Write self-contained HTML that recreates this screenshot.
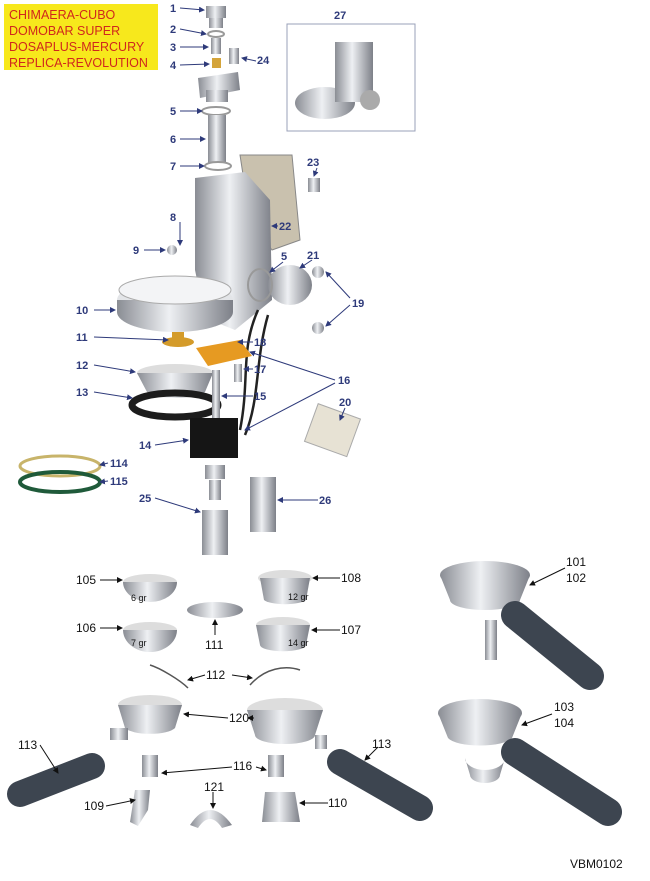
<!DOCTYPE html>
<html><head><meta charset="utf-8"><style>
body{margin:0;background:#fff;width:650px;height:881px;overflow:hidden;font-family:"Liberation Sans",sans-serif}
svg{position:absolute;left:0;top:0}
.n{font:bold 11px "Liberation Sans",sans-serif;fill:#2e3a7a}
.k{font:12px "Liberation Sans",sans-serif;fill:#111}
.s{font:9px "Liberation Sans",sans-serif;fill:#111}
</style></head><body>
<svg width="650" height="881" viewBox="0 0 650 881">
<defs>
<linearGradient id="m" x1="0" x2="1"><stop offset="0" stop-color="#8a8d94"/><stop offset=".45" stop-color="#eef0f3"/><stop offset="1" stop-color="#7d8088"/></linearGradient>
<marker id="a" markerWidth="6" markerHeight="6" refX="5" refY="3" orient="auto"><path d="M0,0L6,3L0,6z" fill="#2e3a7a"/></marker>
<marker id="b" markerWidth="6" markerHeight="6" refX="5" refY="3" orient="auto"><path d="M0,0L6,3L0,6z" fill="#111"/></marker>
</defs>
<rect x="4" y="4" width="154" height="66" fill="#f7e81c"/>
<g font-family="Liberation Sans" font-size="12.5" fill="#d0281c">
<text x="9" y="19">CHIMAERA-CUBO</text><text x="9" y="35">DOMOBAR SUPER</text><text x="9" y="51">DOSAPLUS-MERCURY</text><text x="9" y="67">REPLICA-REVOLUTION</text></g>
<rect x="287" y="24" width="128" height="107" fill="none" stroke="#9aa0b8"/>
<ellipse cx="325" cy="103" rx="30" ry="16" fill="url(#m)"/><rect x="335" y="42" width="38" height="60" fill="url(#m)"/><circle cx="370" cy="100" r="10" fill="#aaa"/>
<rect x="206" y="6" width="20" height="12" fill="url(#m)"/><rect x="209" y="18" width="14" height="10" fill="url(#m)"/>
<ellipse cx="216" cy="34" rx="8" ry="3" fill="none" stroke="#999" stroke-width="2"/>
<rect x="211" y="38" width="10" height="16" fill="url(#m)"/>
<rect x="229" y="48" width="10" height="16" fill="url(#m)"/>
<rect x="212" y="58" width="9" height="10" fill="#d4a43a"/>
<path d="M198,78 L238,72 L240,90 L200,98 Z" fill="url(#m)"/><rect x="206" y="90" width="22" height="12" fill="url(#m)"/>
<ellipse cx="216" cy="111" rx="14" ry="4" fill="none" stroke="#999" stroke-width="2"/>
<rect x="208" y="115" width="18" height="48" fill="url(#m)"/>
<ellipse cx="218" cy="166" rx="13" ry="4" fill="none" stroke="#999" stroke-width="2"/>
<path d="M240,155 L292,155 L300,240 L272,250 L250,220 Z" fill="#c9c1ae" stroke="#888"/>
<path d="M195,178 L245,172 L270,200 L272,300 L235,330 L205,318 L195,270 Z" fill="url(#m)"/>
<ellipse cx="175" cy="300" rx="58" ry="20" fill="#e3e5e8"/><path d="M117,300 L117,312 A58,20 0 0 0 233,312 L233,300 Z" fill="url(#m)"/>
<ellipse cx="175" cy="290" rx="56" ry="14" fill="#f3f4f6" stroke="#aaa"/>
<rect x="308" y="178" width="12" height="14" fill="url(#m)"/>
<ellipse cx="290" cy="285" rx="22" ry="20" fill="url(#m)"/><ellipse cx="260" cy="285" rx="12" ry="16" fill="none" stroke="#999" stroke-width="2"/>
<circle cx="318" cy="272" r="6" fill="url(#m)"/><circle cx="318" cy="328" r="6" fill="url(#m)"/>
<circle cx="172" cy="250" r="5" fill="url(#m)"/>
<path d="M258,310 C240,350 250,380 240,430 M268,315 C255,360 260,400 245,435" stroke="#222" stroke-width="2.5" fill="none"/>
<ellipse cx="178" cy="342" rx="16" ry="5" fill="#d49b2a"/><rect x="172" y="332" width="12" height="8" fill="#d49b2a"/>
<path d="M196,348 L240,340 L252,356 L208,366 Z" fill="#e69a22"/>
<rect x="234" y="364" width="8" height="18" fill="url(#m)"/>
<ellipse cx="175" cy="373" rx="38" ry="9" fill="#ddd"/><path d="M137,373 L147,392 A30,8 0 0 0 205,392 L213,373 Z" fill="url(#m)"/>
<ellipse cx="175" cy="405" rx="43" ry="12" fill="none" stroke="#1c1c1c" stroke-width="7"/>
<rect x="212" y="370" width="8" height="50" fill="url(#m)"/>
<rect x="190" y="418" width="48" height="40" fill="#151515"/>
<rect x="310" y="410" width="45" height="40" transform="rotate(20 332 430)" fill="#e7e2d4" stroke="#aaa"/>
<ellipse cx="60" cy="466" rx="40" ry="10" fill="none" stroke="#c8b46a" stroke-width="3"/>
<ellipse cx="60" cy="482" rx="40" ry="10" fill="none" stroke="#1f5a3a" stroke-width="4"/>
<rect x="205" y="465" width="20" height="14" fill="url(#m)"/><rect x="209" y="480" width="12" height="20" fill="url(#m)"/>
<rect x="202" y="510" width="26" height="45" fill="url(#m)"/>
<rect x="250" y="477" width="26" height="55" fill="url(#m)"/>
<ellipse cx="150" cy="582" rx="27" ry="8" fill="#ddd"/><path d="M123,582 A27,20 0 0 0 177,582 Z" fill="url(#m)"/>
<ellipse cx="285" cy="578" rx="27" ry="8" fill="#ddd"/><path d="M260,578 L264,600 A22,6 0 0 0 306,600 L310,578 Z" fill="url(#m)"/>
<ellipse cx="215" cy="610" rx="28" ry="8" fill="url(#m)"/>
<ellipse cx="150" cy="630" rx="27" ry="8" fill="#ddd"/><path d="M123,630 A27,22 0 0 0 177,630 Z" fill="url(#m)"/>
<ellipse cx="283" cy="625" rx="27" ry="8" fill="#ddd"/><path d="M256,625 L260,645 A22,6 0 0 0 306,645 L310,625 Z" fill="url(#m)"/>
<path d="M150,665 C160,668 180,680 188,688 M250,685 C265,668 285,665 300,670" stroke="#555" fill="none" stroke-width="1.5"/>
<!-- portafilters right -->
<ellipse cx="485" cy="575" rx="45" ry="14" fill="url(#m)"/><path d="M440,575 L450,600 A35,10 0 0 0 520,600 L530,575 Z" fill="url(#m)"/>
<line x1="515" y1="615" x2="590" y2="676" stroke="#3d4550" stroke-width="28" stroke-linecap="round"/><rect x="485" y="620" width="12" height="40" fill="url(#m)"/>
<ellipse cx="480" cy="713" rx="42" ry="14" fill="url(#m)"/><path d="M438,713 L448,738 A33,10 0 0 0 512,738 L522,713 Z" fill="url(#m)"/>
<line x1="515" y1="752" x2="608" y2="812" stroke="#3d4550" stroke-width="28" stroke-linecap="round"/><path d="M465,758 A20,12 0 0 0 505,758 L500,775 A15,8 0 0 1 470,775 Z" fill="url(#m)"/>
<!-- bottom group -->
<ellipse cx="150" cy="705" rx="32" ry="10" fill="#ddd"/><path d="M118,705 L125,728 A26,8 0 0 0 175,728 L182,705 Z" fill="url(#m)"/><rect x="110" y="728" width="18" height="12" fill="url(#m)"/>
<ellipse cx="285" cy="710" rx="38" ry="12" fill="#ddd"/><path d="M247,710 L255,735 A30,9 0 0 0 315,735 L323,710 Z" fill="url(#m)"/><rect x="315" y="735" width="12" height="14" fill="url(#m)"/>
<line x1="92" y1="766" x2="20" y2="794" stroke="#3d4550" stroke-width="26" stroke-linecap="round"/>
<line x1="340" y1="762" x2="420" y2="808" stroke="#3d4550" stroke-width="26" stroke-linecap="round"/>
<rect x="142" y="755" width="16" height="22" fill="url(#m)"/><rect x="268" y="755" width="16" height="22" fill="url(#m)"/>
<path d="M135,790 L150,790 L148,810 L138,826 L130,822 Z" fill="url(#m)"/>
<path d="M265,792 L295,792 L300,822 L262,822 Z" fill="url(#m)"/>
<path d="M190,825 Q210,795 232,825 L222,828 Q210,810 198,828 Z" fill="url(#m)"/>
<g stroke="#2e3a7a" stroke-width="1" marker-end="url(#a)">
<line x1="180" y1="8" x2="204" y2="10"/><line x1="180" y1="29" x2="206" y2="34"/><line x1="180" y1="47" x2="208" y2="47"/><line x1="180" y1="65" x2="209" y2="64"/>
<line x1="256" y1="61" x2="242" y2="58"/><line x1="180" y1="111" x2="202" y2="111"/><line x1="180" y1="139" x2="205" y2="139"/><line x1="180" y1="166" x2="204" y2="166"/>
<line x1="317" y1="168" x2="314" y2="176"/><line x1="180" y1="222" x2="180" y2="245"/><line x1="278" y1="226" x2="272" y2="226"/><line x1="144" y1="250" x2="165" y2="250"/>
<line x1="312" y1="260" x2="300" y2="268"/><line x1="283" y1="262" x2="270" y2="272"/><line x1="350" y1="298" x2="326" y2="272"/><line x1="350" y1="305" x2="326" y2="326"/>
<line x1="94" y1="310" x2="115" y2="310"/><line x1="94" y1="337" x2="168" y2="340"/><line x1="253" y1="342" x2="238" y2="342"/><line x1="94" y1="365" x2="135" y2="372"/>
<line x1="253" y1="369" x2="244" y2="369"/><line x1="335" y1="380" x2="250" y2="352"/><line x1="335" y1="383" x2="245" y2="430"/><line x1="94" y1="392" x2="132" y2="398"/>
<line x1="253" y1="396" x2="222" y2="396"/><line x1="345" y1="408" x2="340" y2="420"/><line x1="155" y1="445" x2="188" y2="440"/><line x1="108" y1="463" x2="100" y2="465"/><line x1="108" y1="481" x2="100" y2="482"/>
<line x1="155" y1="498" x2="200" y2="512"/><line x1="318" y1="500" x2="278" y2="500"/>
</g>
<g stroke="#111" stroke-width="1" marker-end="url(#b)">
<line x1="100" y1="580" x2="122" y2="580"/><line x1="340" y1="578" x2="313" y2="578"/><line x1="100" y1="628" x2="122" y2="628"/><line x1="340" y1="630" x2="312" y2="630"/>
<line x1="215" y1="635" x2="215" y2="620"/><line x1="205" y1="675" x2="188" y2="680"/><line x1="232" y1="675" x2="252" y2="678"/>
<line x1="565" y1="568" x2="530" y2="585"/><line x1="552" y1="714" x2="522" y2="725"/>
<line x1="228" y1="718" x2="184" y2="714"/><line x1="254" y1="718" x2="248" y2="718"/>
<line x1="40" y1="745" x2="58" y2="773"/><line x1="378" y1="747" x2="365" y2="760"/>
<line x1="232" y1="767" x2="162" y2="773"/><line x1="256" y1="767" x2="266" y2="770"/><line x1="213" y1="792" x2="213" y2="808"/>
<line x1="106" y1="806" x2="135" y2="800"/><line x1="328" y1="803" x2="300" y2="803"/>
</g>
<g class="n">
<text x="170" y="12">1</text><text x="170" y="33">2</text><text x="170" y="51">3</text><text x="170" y="69">4</text><text x="257" y="64">24</text>
<text x="170" y="115">5</text><text x="170" y="143">6</text><text x="170" y="170">7</text><text x="307" y="166">23</text><text x="170" y="221">8</text>
<text x="279" y="230">22</text><text x="133" y="254">9</text><text x="307" y="259">21</text><text x="281" y="260">5</text><text x="352" y="307">19</text>
<text x="76" y="314">10</text><text x="76" y="341">11</text><text x="254" y="346">18</text><text x="76" y="369">12</text><text x="338" y="384">16</text>
<text x="254" y="373">17</text><text x="76" y="396">13</text><text x="254" y="400">15</text><text x="339" y="406">20</text><text x="139" y="449">14</text>
<text x="110" y="467">114</text><text x="110" y="485">115</text><text x="139" y="502">25</text><text x="319" y="504">26</text><text x="334" y="19">27</text>
</g>
<g class="k">
<text x="76" y="584">105</text><text x="341" y="582">108</text><text x="76" y="632">106</text><text x="341" y="634">107</text><text x="205" y="649">111</text>
<text x="206" y="679">112</text><text x="566" y="566">101</text><text x="566" y="582">102</text><text x="229" y="722">120</text>
<text x="554" y="711">103</text><text x="554" y="727">104</text><text x="18" y="749">113</text><text x="372" y="748">113</text>
<text x="233" y="770">116</text><text x="204" y="791">121</text><text x="84" y="810">109</text><text x="328" y="807">110</text>
<text x="570" y="868">VBM0102</text>
</g>
<g class="s"><text x="131" y="601">6 gr</text><text x="288" y="600">12 gr</text><text x="131" y="646">7 gr</text><text x="288" y="646">14 gr</text></g>
</svg>
</body></html>
